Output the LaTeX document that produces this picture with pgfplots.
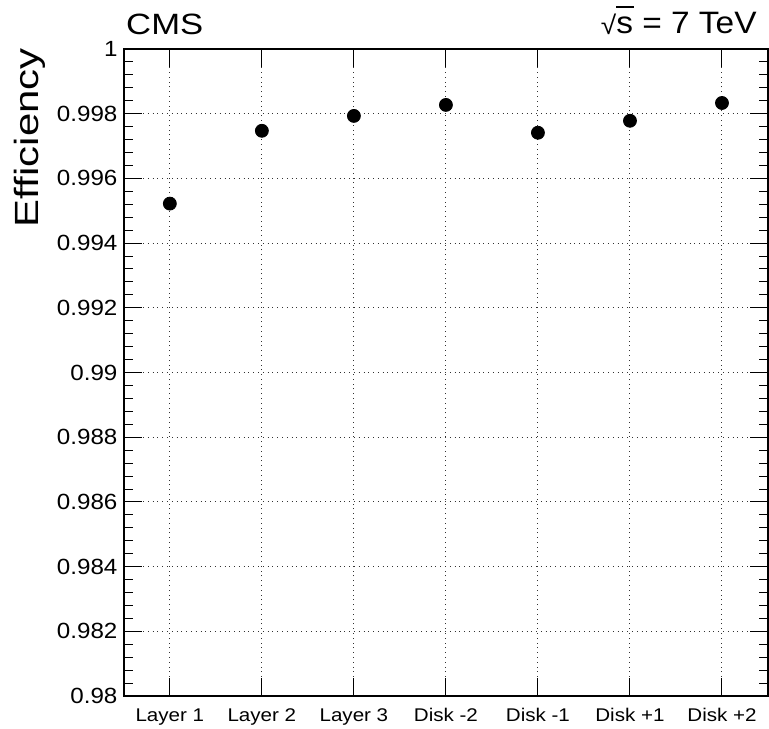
\documentclass[border=0pt]{standalone}
\usepackage{fontspec}
\setmainfont{Liberation Sans}
\usepackage{graphicx}
\usepackage{pgfplots}
\pgfplotsset{compat=1.18}

\begin{document}
\begin{tikzpicture}
\begin{axis}[
    scale only axis,
    width=322.5pt, height=324pt,
    xmin=-0.5, xmax=6.5,
    ymin=0.98, ymax=1.0,
    xtick={0,1,2,3,4,5,6},
    ytick={0.98,0.982,...,1.0001},
    minor y tick num=4,
    tick align=inside,
    tick pos=both,
    major tick length=9pt,
    minor tick length=4.5pt,
    every tick/.style={black, line width=0.5pt},
    axis line style={line width=1pt},
    grid=major,
    major grid style={dotted, black!80, line width=0.5pt},
    xticklabel style={font=\fontsize{9.2}{10}\selectfont, inner sep=0pt, yshift=-6pt, anchor=north},
    yticklabel style={font=\fontsize{11}{12}\selectfont, inner sep=0pt, xshift=-3pt, anchor=east},
    yticklabel={\scalebox{1.1}[1]{\pgfmathprintnumber[fixed,precision=3,assume math mode=true]{\tick}}},
    xticklabel={\scalebox{1.12}[1]{\pgfmathparse{int(\tick)}\ifcase\pgfmathresult Layer 1\or Layer 2\or Layer 3\or Disk -2\or Disk -1\or Disk +1\or Disk +2\fi}},
    clip=false,
]
% efficiency per layer / disk
\addplot[only marks, mark=*, mark size=3.25pt, black] coordinates {
    (0, 0.99522)
    (1, 0.99747)
    (2, 0.99793)
    (3, 0.99827)
    (4, 0.99741)
    (5, 0.99778)
    (6, 0.99833)
};

\node[rotate=90, anchor=base east, inner sep=0pt, font=\fontsize{16.8}{18}\selectfont]
    at ([xshift=-42.75pt, yshift=0.5pt]rel axis cs:0,1) {\scalebox{1.25}[1]{Efficiency}};
\node[anchor=base west, inner sep=0pt, font=\fontsize{14.7}{16}\selectfont]
    at ([xshift=1pt, yshift=7pt]rel axis cs:0,1) {\scalebox{1.18}[1]{CMS}};
\node[anchor=base east, inner sep=0pt, font=\fontsize{15.5}{17}\selectfont]
    at ([xshift=-5.5pt, yshift=7.5pt]rel axis cs:1,1) {\scalebox{1.08}[1]{\raisebox{-0.5pt}{\fontsize{13}{14}\selectfont √}\rlap{\rule[13.2pt]{8pt}{0.6pt}}s = 7 TeV}};
\end{axis}
\useasboundingbox (-62pt,-16pt) rectangle (322.8pt,348.5pt);
\end{tikzpicture}
\end{document}
